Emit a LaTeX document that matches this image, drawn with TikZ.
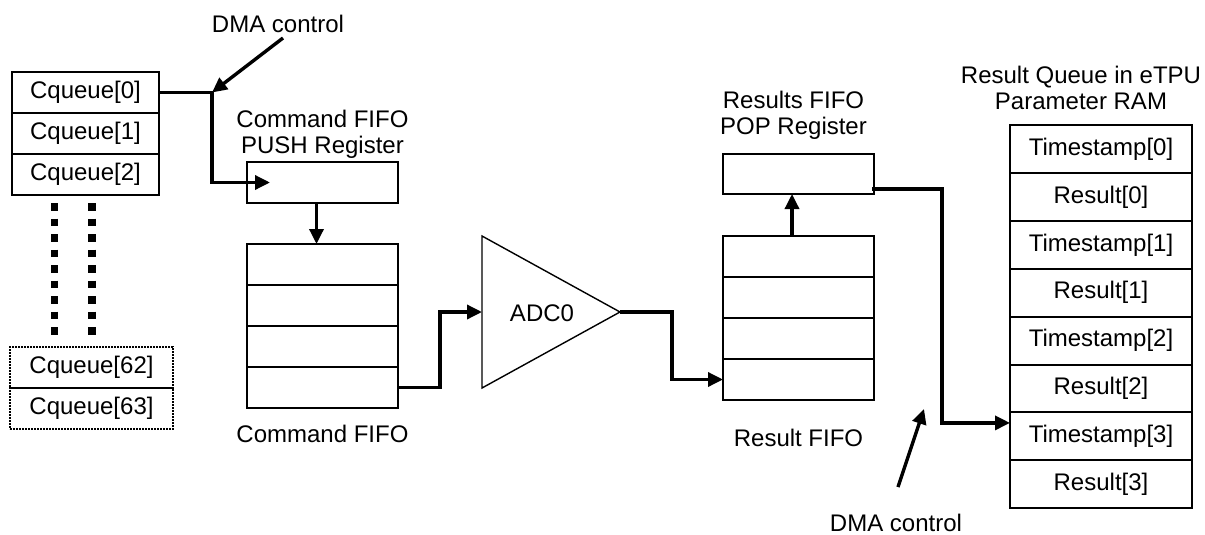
\documentclass[tikz,border=0pt]{standalone}
\usepackage{fontspec}
\setmainfont{Liberation Sans}
\usetikzlibrary{arrows.meta, positioning, calc}
\tikzstyle{cell} = [rectangle, draw, line width=2pt, minimum width=147pt,
    minimum height=41pt, inner sep=0pt, outer sep=0pt]
\tikzstyle{dotcell} = [cell, line width=1.8pt, dash pattern=on 1.8pt off 1.2pt, minimum width=163pt]
\tikzstyle{fifo} = [cell, minimum width=151pt]
\tikzstyle{slot} = [cell, minimum width=182pt, minimum height=47.9pt]
\tikzstyle{title} = [align=center, inner sep=0pt]
\tikzstyle{wire} = [line width=3.4pt]
\tikzstyle{arrow} = [wire, -{Triangle[length=15pt, width=14pt]}]
\tikzstyle{dots} = [line width=7.5pt, dash pattern=on 7.5pt off 8pt]

\begin{document}
\begin{tikzpicture}[x=1pt, y=-1pt, font=\fontsize{24}{26.5}\selectfont]
    \useasboundingbox (0,0) rectangle (1205,535);
    % Command queue
    \node [cell] (cq0) at (85.5,92.5) {Cqueue[0]};
    \node [cell, below=0pt of cq0] (cq1) {Cqueue[1]};
    \node [cell, below=0pt of cq1] (cq2) {Cqueue[2]};
    \node [dotcell] (cq62) at (91.5,367.5) {Cqueue[62]};
    \node [dotcell, below=0pt of cq62] (cq63) {Cqueue[63]};
    \draw [dots] ($(cq2.south west)+(42.5,8)$) -- ($(cq62.north west)+(44.5,-12)$);
    \draw [dots] ($(cq2.south west)+(80,8)$) -- ($(cq62.north west)+(82,-12)$);

    % Command FIFO
    \node [fifo] (push) at (322.5,182.5) {};
    \node [title, above=3pt of push] (pushlbl) {Command FIFO\\PUSH Register};
    \node [fifo] (cf1) at (322.5,264.5) {};
    \node [fifo, below=0pt of cf1] (cf2) {};
    \node [fifo, below=0pt of cf2] (cf3) {};
    \node [fifo, below=0pt of cf3] (cf4) {};
    \node [title, below=17pt of cf4] (cflbl) {Command FIFO};

    % ADC
    \coordinate (adcin) at (482,312);
    \coordinate (adcout) at (620,312);
    \draw [line width=1.4pt] (482,236) -- (adcout) -- (482,388) -- cycle;
    \node (adc) at (542,313) {ADC0};

    % Result FIFO
    \node [fifo, minimum height=40pt] (pop) at (798.5,174) {};
    \node [title, above=14pt of pop, xshift=-5pt] (poplbl) {Results FIFO\\POP Register};
    \node [fifo] (rf1) at (798.5,256.5) {};
    \node [fifo, below=0pt of rf1] (rf2) {};
    \node [fifo, below=0pt of rf2] (rf3) {};
    \node [fifo, below=0pt of rf3] (rf4) {};
    \node [title, below=29pt of rf4] (rflbl) {Result FIFO};

    % Result queue in parameter RAM
    \node [slot] (rq1) at (1101,149) {Timestamp[0]};
    \node [slot, below=0pt of rq1] (rq2) {Result[0]};
    \node [slot, below=0pt of rq2] (rq3) {Timestamp[1]};
    \node [slot, below=0pt of rq3] (rq4) {Result[1]};
    \node [slot, below=0pt of rq4] (rq5) {Timestamp[2]};
    \node [slot, below=0pt of rq5] (rq6) {Result[2]};
    \node [slot, below=0pt of rq6] (rq7) {Timestamp[3]};
    \node [slot, below=0pt of rq7] (rq8) {Result[3]};
    \node [title, above=15pt of rq1, xshift=-20pt] (rqlbl) {Result Queue in eTPU\\Parameter RAM};

    % DMA labels
    \node (dmatop) at (278,24) {DMA control};
    \node (dmabot) at (896,523) {DMA control};
    \coordinate (dmafrom) at (283,38);
    \coordinate (join) at (212,92.5);
    \coordinate (dmabotfrom) at (898,487);
    \coordinate (dmabotto) at (924,409);

    % Data flow
    \draw [arrow] (cq0.east) -- (join) |- ($(push.west)+(23,0)$);
    \draw [arrow] (dmafrom) -- (join);
    \draw [arrow] ([xshift=-6pt]push.south) -- ([xshift=-6pt]cf1.north);
    \draw [arrow] (cf4.east) -- ++(42,0) |- (adcin);
    \draw [arrow] (adcout) -- ++(52,0) |- (rf4.west);
    \draw [arrow] ([xshift=-6.5pt]rf1.north) -- ([xshift=-6.5pt]pop.south);
    \draw [arrow] ($(pop.east)+(-2,15)$) -- ++(70,0) |- ([yshift=13.5pt]rq7.west);
    \draw [arrow] (dmabotfrom) -- (dmabotto);
\end{tikzpicture}
\end{document}
